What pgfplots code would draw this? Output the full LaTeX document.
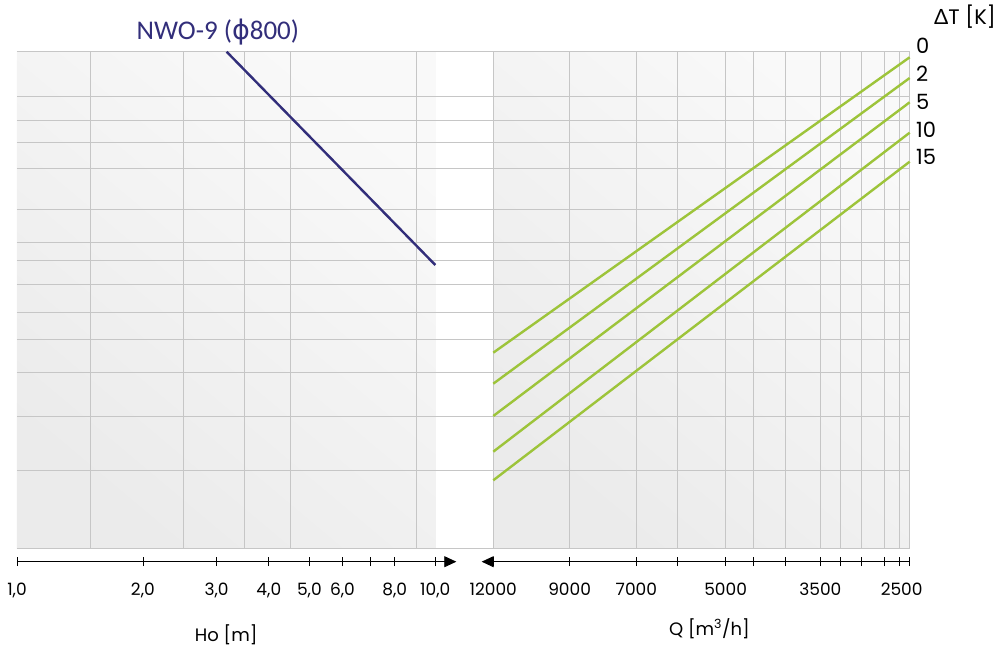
\documentclass[border=0pt]{standalone}
\usepackage{fontspec}
\setmainfont{Poppins}
\newfontfamily\titlefont{Carlito}
\newfontfamily\symfont{DejaVu Sans}
\newfontfamily\grfont{Lato}
\usepackage{pgfplots}
\pgfplotsset{compat=1.18}
\usetikzlibrary{arrows.meta}

\definecolor{gridc}{RGB}{198,198,198}
\definecolor{panello}{RGB}{235,235,235}
\definecolor{panelhi}{RGB}{249,249,249}
\definecolor{navy}{RGB}{50,46,122}
\definecolor{lime}{RGB}{157,196,58}

% horizontal grid (no labels on this scale)
\def\hgrid{0,78,132,176,208.6,236,264,288.3,306,339,380,406,428,452,496.6}

\pgfplotsset{
  panel/.style={
    scale only axis,
    height=496.6pt,
    ymin=0, ymax=496.6,
    axis x line=bottom, axis y line=left,
    y axis line style={draw=none},
    ytick=\empty,
    extra y ticks=\hgrid,
    extra y tick labels={},
    extra y tick style={grid=major, major tick length=0pt},
    major grid style={gridc, line width=0.8pt},
    axis background/.style={top color=panelhi, bottom color=panello, shading angle=-40},
    tick align=center,
    major tick length=9pt,
    tick style={black, line width=0.7pt},
    x axis line style={black, line width=0.8pt},
    axis x line shift=13.4pt,
    xticklabel style={font=\fontsize{17}{17}\selectfont, yshift=-13pt},
    xlabel style={font=\fontsize{18}{18}\selectfont, yshift=-16pt},
    clip=false,
  }
}

\begin{document}
\begin{tikzpicture}
\useasboundingbox (0pt,0pt) rectangle (1005pt,648pt);

% left panel: Ho [m]
\begin{axis}[
  panel,
  at={(17pt,99.7pt)}, anchor=south west,
  width=418.3pt,
  xmode=log, xmin=1, xmax=10,
  xtick={1,2,3,4,5,6,7,8,10},
  xticklabels={{1,0},{2,0},{3,0},{4,0},{5,0},{6,0},{},{8,0},{10,0}},
  extra x ticks={1.5,2.5,3.5,4.5,9},
  extra x tick labels={},
  extra x tick style={grid=major, major tick length=0pt},
  x axis line style={-{Triangle[length=12pt,width=11pt]}, shorten >=-21pt},
  xlabel={Ho [m]},
]
\addplot[navy, line width=2.4pt] coordinates {(3.17,496.6) (10,283.3)};
\end{axis}

% gap between the panels: only the horizontal lines
\begin{axis}[
  scale only axis,
  at={(435.3pt,99.7pt)}, anchor=south west,
  width=58pt, height=496.6pt,
  xmin=0, xmax=1, ymin=0, ymax=496.6,
  axis line style={draw=none},
  xtick=\empty, ytick=\empty,
  extra y ticks=\hgrid,
  extra y tick labels={},
  extra y tick style={grid=major, major tick length=0pt},
  major grid style={gridc, line width=0.8pt},
]
\end{axis}

% right panel: Q [m3/h]
\begin{axis}[
  panel,
  at={(493.3pt,99.7pt)}, anchor=south west,
  width=416.4pt,
  xmode=log, x dir=reverse, xmin=2500, xmax=12000,
  xtick={12000,9000,7000,6000,5000,4500,4000,3500,3250,3000,2750,2600,2500},
  xticklabels={12000,9000,7000,{},5000,{},{},3500,{},{},{},{},\hspace*{-16pt}2500},
  xmajorgrids,
  x axis line style={-{Triangle[length=12pt,width=11pt]}, shorten >=-11.6pt},
  xlabel={Q [m\textsuperscript{3}/h]},
  xlabel style={xshift=8pt},
]
\addplot[lime, line width=2.4pt] coordinates {(12000,195.6) (2500,491)};
\addplot[lime, line width=2.4pt] coordinates {(12000,164.6) (2500,470.3)};
\addplot[lime, line width=2.4pt] coordinates {(12000,132.3) (2500,446)};
\addplot[lime, line width=2.4pt] coordinates {(12000,96.6) (2500,415.6)};
\addplot[lime, line width=2.4pt] coordinates {(12000,68) (2500,386.6)};
\end{axis}

\node[navy, font=\titlefont\fontsize{27}{27}\selectfont] at (217.9pt,616.3pt)
  {NWO-9 ({\symfont ϕ}800)};
\node[font=\fontsize{21}{21}\selectfont] at (965pt,631.3pt) {{\grfont Δ}T [K]};
\begin{scope}[every node/.style={anchor=west, inner sep=0pt, font=\fontsize{21}{21}\selectfont}]
\node at (916pt,602.3pt) {0};
\node at (916pt,574.7pt) {2};
\node at (916pt,546.3pt) {5};
\node at (916pt,518.7pt) {10};
\node at (916pt,490.7pt) {15};
\end{scope}
\end{tikzpicture}
\end{document}
